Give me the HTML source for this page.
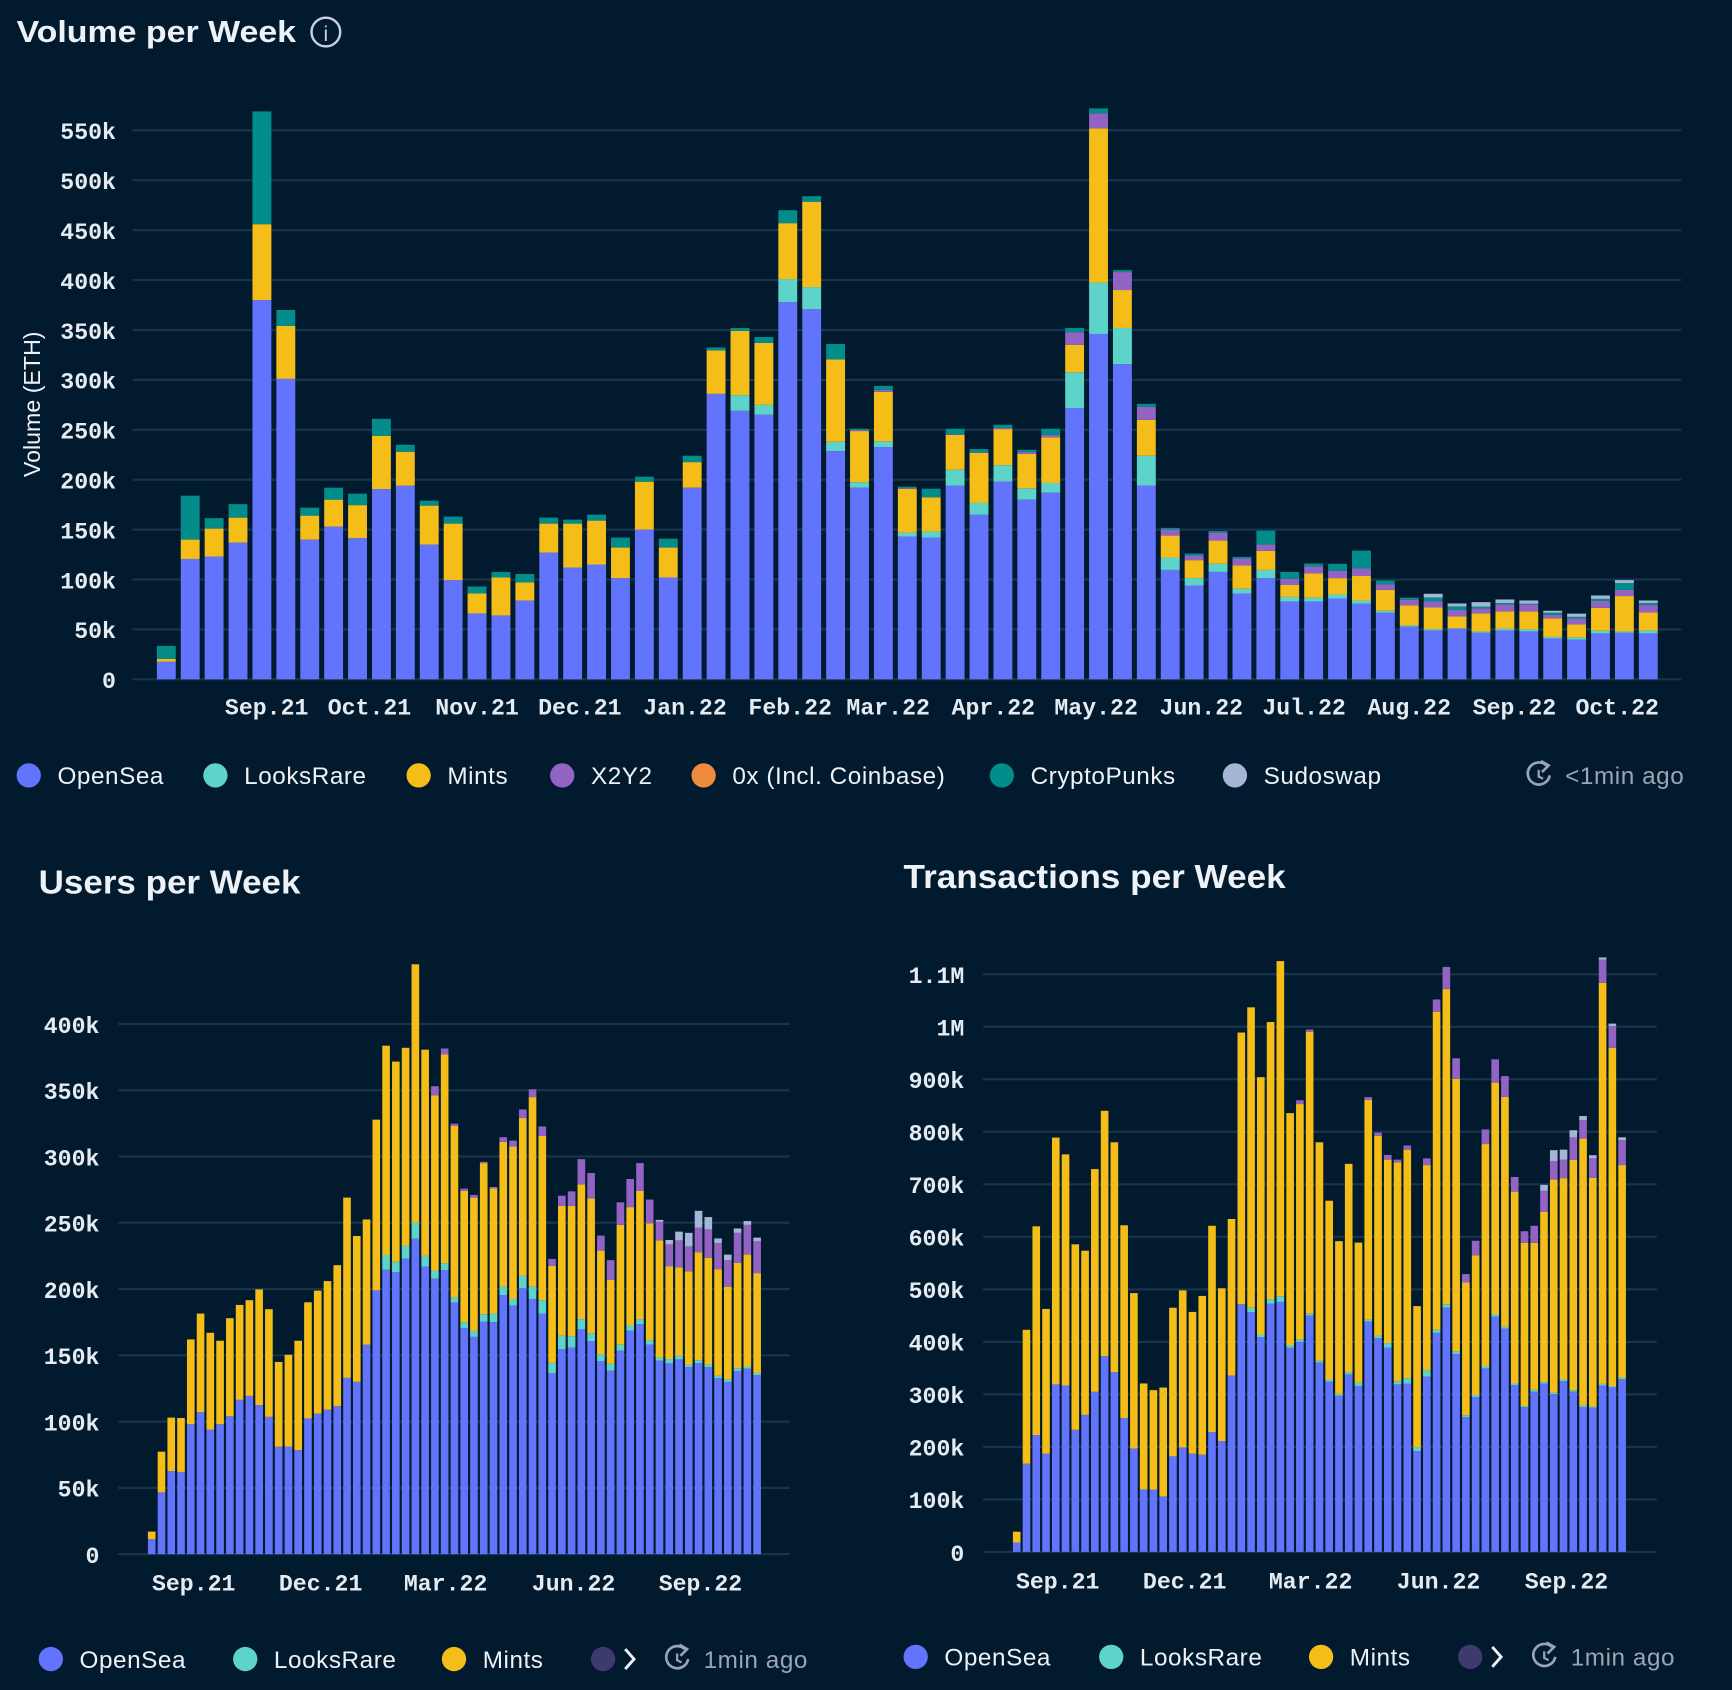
<!DOCTYPE html>
<html><head><meta charset="utf-8">
<style>
html,body{margin:0;padding:0;background:#011a2e;}
svg{display:block;}
.t{font-family:"Liberation Sans",sans-serif;fill:#eef2f7;}
.lg{letter-spacing:0.5px;}
.m{font-family:"Liberation Mono",monospace;fill:#e6ebf1;font-weight:bold;}
</style></head>
<body>
<svg id="root" width="1732" height="1690" viewBox="0 0 1568 1530" xmlns="http://www.w3.org/2000/svg">
<rect x="0" y="0" width="1568" height="1530" fill="#011a2e"/>
<text class="t" x="15" y="38" font-size="28" font-weight="bold" textLength="253" lengthAdjust="spacingAndGlyphs">Volume per Week</text>
<g><circle cx="295" cy="29" r="13" fill="none" stroke="#c9d2dc" stroke-width="2.2"/><text class="t" x="295" y="37" font-size="19" text-anchor="middle" style="fill:#c9d2dc">i</text></g>
<g id="vol"></g>
<text class="t" x="35" y="809" font-size="30" font-weight="bold" textLength="237" lengthAdjust="spacingAndGlyphs">Users per Week</text>
<g id="usr"></g>
<text class="t" x="818" y="804" font-size="30" font-weight="bold" textLength="346" lengthAdjust="spacingAndGlyphs">Transactions per Week</text>
<g id="txs"></g>
<g id="legends"></g>
</svg>
<script>
// ---------- Volume per week (k ETH) ----------
const volOpenSea=[17.6,120.6,123,137,380,301,140,153,141.5,190.6,194,135,99.4,66,64,79,127,112,115,101.4,150,102,192,286,269,265,378,371,228.6,192,232.7,143,142,194,164.8,198,180,187,271.6,346,315.7,194,109.6,94,107.6,86,101.4,78,78,81,75.7,66.7,52.8,49,50.7,46.6,49,48,41,39.7,46,46.6,46];
const volLooksRare=[0,0,0,0,0,0,0,0,0,0,0,0,0,0,0,0,0,0,0,0,0,0,0,0,15.7,10,23,22,9.4,5.5,5.7,4,6,16,11.9,16.5,11.4,9.7,36,51.5,36.3,30,12.4,7.4,8.1,4.8,8.2,4.6,3.8,4,3.3,2,1.2,1.3,0.5,1.2,1.7,2,1.5,2.3,2.7,1.4,3];
const volMints=[2.8,19.4,28,25,76,53,24,27,33,53.4,34,39,56.6,20,38,18,29,44,44,30.6,48,30,25.6,43.6,64.3,62,56,85.5,82.6,51.2,49.6,44,34.4,35,50.3,36.2,34.4,45.8,27.4,154.5,38,36,22,18,23.3,23.2,19.2,11.9,24.2,16.4,24.5,20.9,20,21.7,11.8,18.2,17.3,18,18.5,13,22.9,35.4,18];
const volX2Y2=[0,0,0,0,0,0,0,0,0,0,0,0,0,0,0,0,0,0,0,0,0,0,0,0,0,0,0,0,0,1,2,0.5,0,0.5,0.5,1,2,2.5,12.8,15,18,13,6,4.6,8,7,6.2,6.1,7,7.4,7.5,5.7,5.8,6.3,6.5,5,7,7,3.6,6,6.9,6.2,7.4];
const vol0x=[0,0,0,0,0,0,0,0,0,0,0,0,0,0,0,0,0,0,0,0,0,0,0,0,0,0,0,0,0,0,0,0,0,0,0,0,0,0,0,0,0,0,0,0,0,0,0,0,0,0,0,0,0,0,0,0,0,0,0,0,0,0,0];
const volCryptoPunks=[13.1,44,10.5,13.5,113,16,8,12,11.5,17,7,5,7,7,5.6,8.5,6,4,6,10,5,9,6.4,2.9,3,6,13,5.5,15.4,1.3,4,1.5,8.6,5.5,3.2,3.3,2.2,6,4.2,5,2,3,1.7,2,1.5,1.7,14,7,3,6.9,18,3.7,2,3.7,3.5,1.8,1.5,0.7,2.1,1.6,2.1,6.9,2.1];
const volSudoswap=[0,0,0,0,0,0,0,0,0,0,0,0,0,0,0,0,0,0,0,0,0,0,0,0,0,0,0,0,0,0,0,0,0,0,0,0,0,0,0,0,0,0,0,0,0,0,0,0,0,0,0,0,0,3.7,3,4.5,3.5,3.3,2,3.2,3.4,2.9,2.5];
const volTicks=[0,50,100,150,200,250,300,350,400,450,500,550];
const volTickLabels=["0","50k","100k","150k","200k","250k","300k","350k","400k","450k","500k","550k"];
const volMonthLabels=["Sep.21","Oct.21","Nov.21","Dec.21","Jan.22","Feb.22","Mar.22","Apr.22","May.22","Jun.22","Jul.22","Aug.22","Sep.22","Oct.22"];
const volMonthAt=[4.2,8.5,13,17.3,21.7,26.1,30.2,34.6,38.9,43.3,47.6,52,56.4,60.7];

// ---------- Users per week (k) ----------
const usrOpenSea=[11.3,46.6,62.7,62,98,107,94,98,104,116.4,119.4,112.5,103.6,81,81,78.5,102.4,106,109,111.6,133,130,158,199,214.6,212.8,223,238,217,207.8,214.3,189.9,170.4,163.9,175.5,175,195.5,187.5,200.6,192.5,181.5,136.4,154.6,155.8,169.6,160.6,145.7,138.5,153.4,168.6,173.4,158,146,143.9,146.9,141.2,144.2,141,132.8,129.9,138.2,140,135];
const usrLooksRare=[0,0,0,0,0,0,0,0,0,0,0,0,0,0,0,0,0,0,0,0,0,0,0,0,11.1,7.8,9.8,12,8,6.2,5.1,3.8,4.6,4.5,5.5,6.5,6.3,5,9.3,9.3,10.1,8.1,10.2,8.7,7.7,6,5,5.1,4.6,3.9,3.9,3.5,2.4,3.3,2.7,1.8,2.1,2,1.8,2.1,2.1,1.5,1.7];
const usrMints=[5.7,30.7,40.3,40.7,64,74.5,73,63,74,71.6,72.2,87.2,81.2,64,69.4,82.5,87.6,92.8,97,106.4,136,110,94.5,128.8,157.9,151,149.2,195,155.6,132,157.6,129.3,99,100.6,114,94.5,109.2,115,119.1,143,123.9,73.1,97.9,98.2,101.7,101.8,78.3,63.4,90.4,89.3,96.7,88.1,88.3,69.8,66.8,70.4,81.5,80.6,80.4,69.8,79.4,84.5,75.3];
const usrX2Y2=[0,0,0,0,0,0,0,0,0,0,0,0,0,0,0,0,0,0,0,0,0,0,0,0,0,0,0,0,0,7,4.5,1.8,1.8,2,1,1,3.6,4.5,6.5,5.9,7.2,5.1,7.7,11,19,19.1,11.3,14.8,17,21.2,21,17.9,14,16.7,20.3,18.8,18.5,21.4,19.6,20,22.7,22.4,24];
const usrSudoswap=[0,0,0,0,0,0,0,0,0,0,0,0,0,0,0,0,0,0,0,0,0,0,0,0,0,0,0,0,0,0,0,0,0,0,0,0,0,0,0,0,0,0,0,0,0,0,0,0,0,0,0,0,1.5,3.3,6.6,10.2,12.7,9.3,3.6,4.2,3.3,2.9,2.8];
const usrTicks=[0,50,100,150,200,250,300,350,400];
const usrTickLabels=["0","50k","100k","150k","200k","250k","300k","350k","400k"];
const usrMonthLabels=["Sep.21","Dec.21","Mar.22","Jun.22","Sep.22"];
const usrMonthAt=[4.3,17.3,30.1,43.2,56.2];

// ---------- Transactions per week (k) ----------
const txOpenSea=[18,168,222.6,187,319,317,232.5,261,305,372.8,342.6,255,197,119,118.5,105.7,182,199,187,185,228,211,336,471.7,456.6,409,472.5,476,388.7,400,450,360.8,324.5,297.4,338,316,438.5,406.8,389,319,320.7,192,333.6,417,465,376.6,256.6,295,349.4,448,425,317.7,275.5,305,320.8,300.4,325,305,276,274.7,317,314,329];
const txLooksRare=[0,0,0,0,0,0,0,0,0,0,0,0,0,0,0,0,0,0,0,0,0,0,0,0,8.4,5,9,10.8,5.3,5,3.6,3,3.8,3.6,3.9,6,3.5,5.2,8.7,6,10.3,7,12.1,6,6.7,5.4,3.8,3.9,4.6,4,3.7,3.1,2.2,3.7,3,3,3.3,3,3,2.3,3,2,3];
const txMints=[20.5,255,397.4,275.6,470,440,353.2,312.6,424,467.2,437.4,367,295.8,201.8,189.5,207.3,283,299,270,302.5,393,291,298,517.3,572,490,527.5,638.2,441.5,447.8,536.4,416.2,340.4,290.7,397.1,267,419,380.5,349.3,417,435,269,390.9,605.7,600,519,252.6,266.1,422.6,441.6,437.7,365.2,311,280,323.7,405.6,383.4,438.4,508,435.5,763.8,644,404.6];
const txX2Y2=[0,0,0,0,0,0,0,0,0,0,0,0,0,0,0,0,0,0,0,0,0,0,0,0,0,0,0,0,0,7.2,4.7,0,0,0,0,0,5,6,9,5,8,0,12.8,23.3,42.3,39,16,27.5,27.9,44.4,39.6,28,21.9,32.3,40,35,35.3,43,35,36.9,43.7,41.5,47.4];
const txSudoswap=[0,0,0,0,0,0,0,0,0,0,0,0,0,0,0,0,0,0,0,0,0,0,0,0,0,0,0,0,0,0,0,0,0,0,0,0,0,0,0,0,0,0,0,0,0,0,0,0,0,0,0,0,0,0,11.5,21,19,13.6,8,6,4.5,4.5,5.5];
const txTicks=[0,100,200,300,400,500,600,700,800,900,1000,1100];
const txTickLabels=["0","100k","200k","300k","400k","500k","600k","700k","800k","900k","1M","1.1M"];
const txMonthLabels=["Sep.21","Dec.21","Mar.22","Jun.22","Sep.22"];
const txMonthAt=[4.2,17.2,30.1,43.2,56.3];

const NS="http://www.w3.org/2000/svg";
const C={os:"#6274fc",lr:"#5dd3c9",mi:"#f5bd17",x2:"#9363c4",zx:"#f08a3c",cp:"#028c8a",sd:"#a5b5d6"};
function mk(tag,attrs,parent){const e=document.createElementNS(NS,tag);for(const k in attrs)e.setAttribute(k,attrs[k]);parent.appendChild(e);return e;}

function drawChart(g,cfg){
  const yScale=v=>cfg.y0-(v-cfg.vmin)*(cfg.y0-cfg.yTop)/(cfg.vmax-cfg.vmin);
  const xLeft=i=>cfg.x0+i*cfg.pitch;
  cfg.ticks.forEach((t,k)=>{
    const y=yScale(t);
    const ln=mk("line",{x1:cfg.gx1,x2:cfg.gx2,y1:y,y2:y,stroke:"#17344d","stroke-width":2},g);
    
    
    const tx=mk("text",{x:cfg.labX,y:y+8,"text-anchor":"end","font-size":cfg.fs,class:"m"},g);
    tx.textContent=cfg.tickLabels[k];
    
    
  });
  const n=cfg.series[0].vals.length;
  for(let i=0;i<n;i++){
    let acc=0;
    cfg.series.forEach(s=>{
      const v=s.vals[i];
      if(v>0){
        const yb=yScale(acc),yt=yScale(acc+v);
        const r=mk("rect",{x:xLeft(i),y:yt,width:cfg.bw,height:Math.max(0.6,yb-yt),fill:s.color},g);
        
        
      }
      acc+=v;
    });
  }
  cfg.months.forEach((m,k)=>{
    const tx=mk("text",{x:xLeft(cfg.monthAt[k])+cfg.bw/2,y:cfg.mY,"text-anchor":"middle","font-size":cfg.fs,class:"m"},g);
    tx.textContent=m;
    
    
  });
}

drawChart(document.getElementById('vol'),{y0:615,yTop:118,vmin:0,vmax:550,x0:142,pitch:21.64,bw:17.1,gx1:120,gx2:1522,labX:105,fs:21,mY:647,
  ticks:volTicks,tickLabels:volTickLabels,months:volMonthLabels,monthAt:volMonthAt,
  series:[{name:"opensea",vals:volOpenSea,color:C.os},{name:"looksrare",vals:volLooksRare,color:C.lr},{name:"mints",vals:volMints,color:C.mi},{name:"x2y2",vals:volX2Y2,color:C.x2},{name:"0x",vals:vol0x,color:C.zx},{name:"cryptopunks",vals:volCryptoPunks,color:C.cp},{name:"sudoswap",vals:volSudoswap,color:C.sd}]});
drawChart(document.getElementById('usr'),{y0:1407,yTop:927,vmin:0,vmax:400,x0:133.9,pitch:8.84,bw:6.9,gx1:107,gx2:715,labX:90,fs:21,mY:1440,
  ticks:usrTicks,tickLabels:usrTickLabels,months:usrMonthLabels,monthAt:usrMonthAt,
  series:[{name:"opensea",vals:usrOpenSea,color:C.os},{name:"looksrare",vals:usrLooksRare,color:C.lr},{name:"mints",vals:usrMints,color:C.mi},{name:"x2y2",vals:usrX2Y2,color:C.x2},{name:"sudoswap",vals:usrSudoswap,color:C.sd}]});
drawChart(document.getElementById('txs'),{y0:1405,yTop:882,vmin:0,vmax:1100,x0:917,pitch:8.84,bw:6.9,gx1:890,gx2:1500,labX:873,fs:21,mY:1438,
  ticks:txTicks,tickLabels:txTickLabels,months:txMonthLabels,monthAt:txMonthAt,
  series:[{name:"opensea",vals:txOpenSea,color:C.os},{name:"looksrare",vals:txLooksRare,color:C.lr},{name:"mints",vals:txMints,color:C.mi},{name:"x2y2",vals:txX2Y2,color:C.x2},{name:"sudoswap",vals:txSudoswap,color:C.sd}]});

const yt=mk("text",{x:0,y:0,transform:"translate(36,366) rotate(-90)","text-anchor":"middle","font-size":21,class:"t"},document.getElementById('vol'));
yt.textContent="Volume (ETH)";



const L=document.getElementById('legends');
function legendItem(cx,cy,color,label){
  const g=mk("g",{},L);
  
  
  mk("circle",{cx:cx,cy:cy,r:11,fill:color},g);
  const t=mk("text",{x:cx+26,y:cy+8,"font-size":22,class:"t lg"},g);
  t.textContent=label;
}
function refresh(x,cy,label){
  const g=mk("g",{},L);
  
  
  mk("path",{d:`M ${x+7} ${cy-9} A 10 10 0 1 0 ${x+10} ${cy}`,fill:"none",stroke:"#9aa6b3","stroke-width":2.4},g);
  mk("path",{d:`M ${x+2} ${cy-13} L ${x+9} ${cy-9} L ${x+3} ${cy-3}`,fill:"none",stroke:"#9aa6b3","stroke-width":2.4},g);
  mk("path",{d:`M ${x} ${cy-5} L ${x} ${cy+1} L ${x+4} ${cy+3}`,fill:"none",stroke:"#9aa6b3","stroke-width":2},g);
  const t=mk("text",{x:x+24,y:cy+8,"font-size":22,class:"t lg",style:"fill:#9aa6b3"},g);
  t.textContent=label;
}
function more(cx,cy){
  const g=mk("g",{},L);
  
  
  mk("circle",{cx:cx,cy:cy,r:11,fill:"#3d3a6e"},g);
  mk("path",{d:`M ${cx+20} ${cy-9} L ${cx+28} ${cy} L ${cx+20} ${cy+9}`,fill:"none",stroke:"#eef2f7","stroke-width":2.6},g);
}
legendItem(26,702,C.os,"OpenSea");
legendItem(195,702,C.lr,"LooksRare");
legendItem(379,702,C.mi,"Mints");
legendItem(509,702,C.x2,"X2Y2");
legendItem(637,702,C.zx,"0x (Incl. Coinbase)");
legendItem(907,702,C.cp,"CryptoPunks");
legendItem(1118,702,C.sd,"Sudoswap");
refresh(1393,702,"<1min ago");
legendItem(46,1502,C.os,"OpenSea");
legendItem(222,1502,C.lr,"LooksRare");
legendItem(411,1502,C.mi,"Mints");
more(546,1502);
refresh(613,1502,"1min ago");
legendItem(829,1500,C.os,"OpenSea");
legendItem(1006,1500,C.lr,"LooksRare");
legendItem(1196,1500,C.mi,"Mints");
more(1331,1500);
refresh(1398,1500,"1min ago");
</script>
</body></html>
